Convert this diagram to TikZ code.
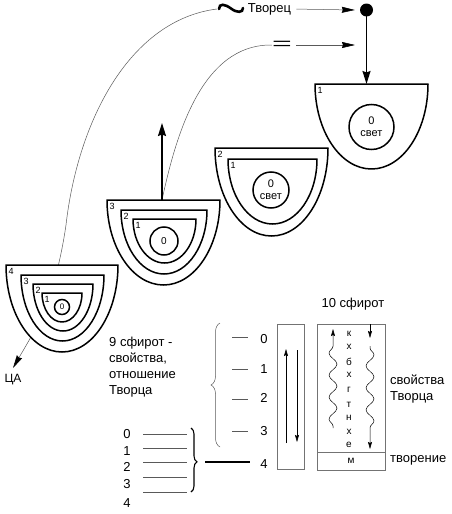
\documentclass[tikz,border=0pt]{standalone}
\usepackage{fontspec}
\setmainfont{Liberation Sans}
\usetikzlibrary{arrows.meta,decorations.pathmorphing,decorations.pathreplacing}
\newcommand\bowlshape[6]{%
  \pgfmathsetmacro\bwc{(#1+#3)/2}%
  \pgfmathsetmacro\bwx{0.5523*(#3-#1)/2}%
  \pgfmathsetmacro\bwy{0.5523*(#4-#2)}%
  \draw[bowl] (#1,#2) -- (#3,#2) .. controls (#3,#2+\bwy) and (\bwc+\bwx,#4) .. (\bwc,#4) .. controls (\bwc-\bwx,#4) and (#1,#2+\bwy) .. (#1,#2) -- cycle;
  \node[lvl] (#6) at (#1+1.5,#2+2) {#5};
}
\begin{document}
\begin{tikzpicture}[x=1pt,y=-1pt,
  bowl/.style={draw=black, line width=1.5pt, fill=white, line join=round},
  ring/.style={circle, draw=black, line width=1.5pt, fill=white, inner sep=0pt, align=center},
  thinline/.style={draw=black!65, line width=0.5pt},
  thinarrow/.style={thinline, -{Stealth[length=13pt,width=6pt,inset=1pt,color=black]}},
  bigarrow/.style={line width=1.6pt, -{Stealth[length=13pt,width=8pt,inset=1.5pt]}},
  smallarrow/.style={line width=0.5pt, -{Stealth[length=7pt,width=4pt,inset=1pt]}},
  lvl/.style={font=\fontsize{9}{9}\selectfont, inner sep=1pt, anchor=north west},
  txt/.style={font=\fontsize{13}{16}\selectfont, inner sep=0pt},
  lett/.style={font=\fontsize{10}{10}\selectfont, inner sep=0pt},
  boxst/.style={draw=black!55, line width=0.6pt, inner sep=0pt},
  wavy/.style={line width=0.5pt, decorate, decoration={snake, amplitude=4pt, segment length=22pt, pre length=2pt, post length=12pt}},
]
\useasboundingbox (0,0) rectangle (451,514);

% top labels
\coordinate (tl) at (219,9);
\coordinate (tr) at (243,8);
\draw[line width=2.6pt, line cap=round] (tl) .. controls (219,3) and (225,4) .. (231,8.5) .. controls (237,13) and (243,13) .. (tr);
\node[txt] (tv) at (269.5,9) {Творец};
\node[circle, fill=black, inner sep=0pt, minimum size=13pt] (dot) at (366.5,10) {};
\node[inner sep=0pt] (eq) at (282,45) {\scalebox{2.6}[1.3]{\fontsize{13}{13}\selectfont =}};
\coordinate (eqend) at (355,45);
\coordinate (caend) at (13,368);
\coordinate (b1t) at (366.5,84);
\coordinate (b3t) at (162,200);
\coordinate (b3up) at (162,123);
\node[font=\fontsize{12}{12}\selectfont, inner sep=0pt] (ca) at (13,380) {ЦА};

\draw[thinarrow, shorten <=5pt] (tv.east) -- ([xshift=-5pt]dot.west);
\draw[thinarrow, shorten <=4pt] (eq.east) -- (eqend);

% long curves
\draw[thinarrow] ([xshift=-2pt]tl) .. controls (130,20) and (78,120) .. (66,225) .. controls (55,300) and (35,330) .. (caend);
\draw[thinline] (eq.west) .. controls (200,44) and (175,140) .. (b3t);

% bowl 1
\bowlshape{315}{84}{428}{169}{1}{s1a}
\node[ring, minimum size=45pt, font=\fontsize{11}{12}\selectfont] (c1) at (371.5,127) {0\\свет};
\draw[bigarrow] (dot.center) -- (b1t);

% bowl 2
\bowlshape{215}{148}{328}{236}{2}{s2b}
\bowlshape{228}{159}{317}{224}{1}{s2a}
\node[ring, minimum size=36pt, font=\fontsize{11}{12}\selectfont] (c2) at (271,190) {0\\свет};

% bowl 3
\bowlshape{107}{200}{220}{285}{3}{s3c}
\bowlshape{121}{210}{207}{274}{2}{s3b}
\bowlshape{133}{219}{196}{263}{1}{s3a}
\node[ring, minimum size=28pt, font=\fontsize{10}{10}\selectfont] (c3) at (164,241) {0};
\draw[bigarrow] (b3t) -- (b3up);

% bowl 4
\bowlshape{6}{265}{118}{352}{4}{s4d}
\bowlshape{21}{275}{104}{341}{3}{s4c}
\bowlshape{33}{284}{93}{331}{2}{s4b}
\bowlshape{42}{293}{82}{322}{1}{s4a}
\node[ring, minimum size=15pt, font=\fontsize{8}{8}\selectfont] (c4) at (62,307) {0};

% lower right: boxes
\node[txt] (ten) at (353,304) {10 сфирот};
\node[boxst, minimum width=27pt, minimum height=145pt] (lbox) at (290.5,396.5) {};
\node[boxst, minimum width=68pt, minimum height=128pt] (rbox) at (351,388) {};
\node[boxst, minimum width=68pt, minimum height=18pt, font=\fontsize{10}{10}\selectfont] (mbox) at (351,461) {м};
\foreach \t/\yy [count=\i] in {к/334,х/347,б/362,х/375,г/390,т/405,н/418,х/432,е/445} {\node[lett] (let\i) at (349,\yy) {\t};}

\coordinate (la1) at (286,443); \coordinate (la2) at (286,349);
\coordinate (lb1) at (297,350); \coordinate (lb2) at (297,442);
\draw[smallarrow] (la1) -- (la2);
\draw[smallarrow] (lb1) -- (lb2);

\coordinate (wa1) at (333,428); \coordinate (wa2) at (333,329);
\coordinate (wb0) at (370,324); \coordinate (wb1) at (370,338);
\coordinate (wb2) at (370,346); \coordinate (wb3) at (370,449);
\draw[wavy, -{Stealth[length=7pt,width=4pt,inset=1pt]}] (wa1) -- (wa2);
\draw[smallarrow] (wb0) -- (wb1);
\draw[wavy, -{Stealth[length=7pt,width=4pt,inset=1pt]}] (wb2) -- (wb3);

\node[txt, align=left, anchor=west] (sv) at (390,389) {свойства\\Творца};
\node[txt, anchor=west] (tvor) at (390,460) {творение};

% numbers by the box
\foreach \n/\yy in {0/339,1/369,2/398,3/431,4/464} {\node[txt] (r\n) at (264,\yy) {\n};}
\foreach \yy in {337,369,399,431} {\draw[thinline] (232,\yy) -- (248,\yy);}
\draw[thinline, decorate, decoration={brace, amplitude=9pt}] (220,447) -- (220,323);

\node[txt, align=left, anchor=west] (nine) at (109,367.5) {9 сфирот -\\свойства,\\отношение\\Творца};

% bottom-left list
\foreach \n/\yy in {0/434,1/451,2/467,3/484,4/503} {\node[txt] (q\n) at (127,\yy) {\n};}
\foreach \yy in {434,448,462,477,492} {\draw[thinline] (143,\yy) -- (187,\yy);}
\draw[line width=1.1pt, decorate, decoration={brace, amplitude=6pt, aspect=0.53}] (191,428) -- (191,492);
\coordinate (bt) at (205,462);
\draw[line width=1.8pt] (bt) -- ([xshift=-10pt]r4.west |- bt);
\end{tikzpicture}
\end{document}
